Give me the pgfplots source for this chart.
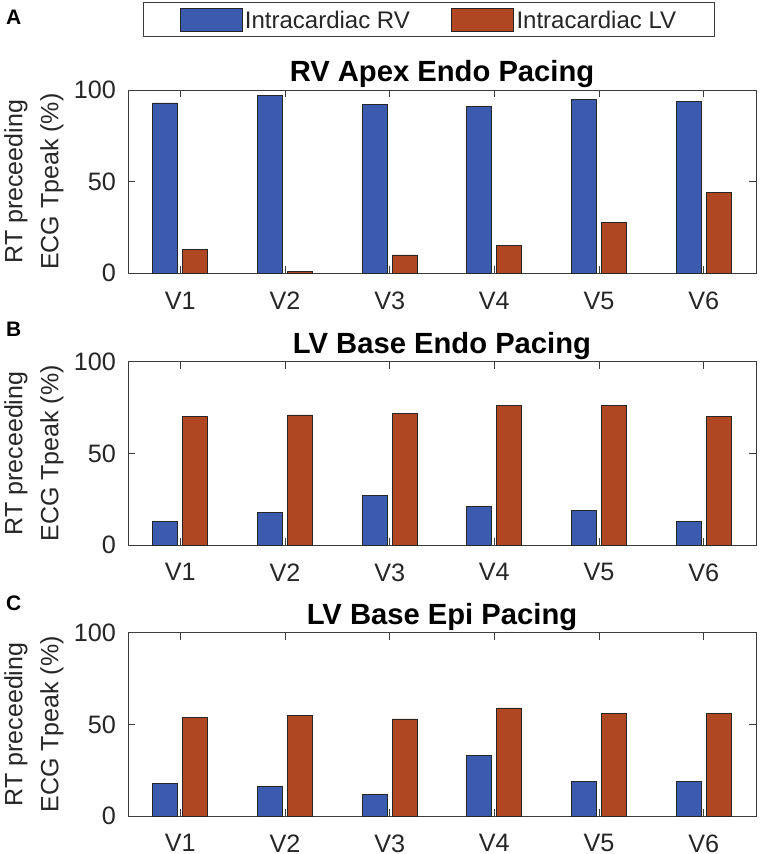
\documentclass[border=0pt]{standalone}
\usepackage{fontspec}
\setmainfont{Liberation Sans}
\usepackage{pgfplots}
\pgfplotsset{compat=1.18}
\definecolor{rvblue}{RGB}{58,91,174}
\definecolor{lvorange}{RGB}{174,71,34}
\definecolor{axgray}{RGB}{60,60,60}
\pgfplotsset{
  panel/.style={
    scale only axis, width=314pt, height=91.6pt,
    ybar,
    xmin=0.5, xmax=6.5, ymin=0, ymax=100,
    xtick={1,2,3,4,5,6}, xticklabels={V1,V2,V3,V4,V5,V6},
    ytick={0,50,100},
    axis line style={draw=axgray, line width=0.5pt},
    tick style={draw=axgray, line width=0.5pt},
    major tick length=3.5pt,
    tick align=inside,
    /pgf/number format/assume math mode=true,
    tick label style={font=\fontsize{12.6}{14}\selectfont, text=black!85},
    xticklabel style={inner sep=0pt, anchor=north, yshift=-9.1pt, text depth=0pt},
    yticklabel style={inner sep=0pt, anchor=east, xshift=-5.8pt},
    ylabel={RT preceeding\\ECG Tpeak (\%)},
    ylabel style={at={(axis description cs:-0.1497,0.5)}, anchor=center, align=center, font=\fontsize{12.5}{18}\selectfont, text=black!85},
    title style={at={(axis description cs:0.5,1)}, anchor=base, yshift=-1.7pt, inner sep=0pt, font=\bfseries\fontsize{14.6}{16}\selectfont},
    bar width=12.5pt,
  },
  rvbar/.style={fill=rvblue, draw=black!85, line width=0.4pt, bar shift=-7.5pt},
  lvbar/.style={fill=lvorange, draw=black!85, line width=0.4pt, bar shift=7.5pt},
}
\begin{document}
\begin{tikzpicture}
\useasboundingbox (0pt,0pt) rectangle (379.5pt,-427pt);
% Panel A
\begin{axis}[panel, at={(64pt,-136.65pt)}, anchor=south west,
  title={RV Apex Endo Pacing},
  legend columns=2,
  legend image code/.code={\draw[#1, line width=0.4pt] (0pt,-5.75pt) rectangle (31pt,5.75pt);},
  legend style={at={(axis description cs:0.4795,1.384)}, anchor=center,
    draw=axgray, line width=0.5pt, inner xsep=18.2pt, inner ysep=2.5pt,
    nodes={inner sep=1.2pt, text depth=0pt},
    font=\fontsize{12}{14}\selectfont, text=black!85,
    /tikz/every even column/.append style={column sep=19.5pt}},
  legend cell align=left,
]
\addplot[rvbar] coordinates {(1,93) (2,97) (3,92) (4,91) (5,95) (6,94)};
\addplot[lvbar] coordinates {(1,13) (2,1) (3,10) (4,15) (5,28) (6,44)};
\legend{Intracardiac RV, Intracardiac LV}
\end{axis}
% Panel B
\begin{axis}[panel, at={(64pt,-272.5pt)}, anchor=south west,
  title={LV Base Endo Pacing}]
\addplot[rvbar] coordinates {(1,13) (2,18) (3,27) (4,21) (5,19) (6,13)};
\addplot[lvbar] coordinates {(1,70) (2,71) (3,72) (4,76) (5,76) (6,70)};
\end{axis}
% Panel C
\begin{axis}[panel, at={(64pt,-408pt)}, anchor=south west,
  title={LV Base Epi Pacing}]
\addplot[rvbar] coordinates {(1,18) (2,16) (3,12) (4,33) (5,19) (6,19)};
\addplot[lvbar] coordinates {(1,54) (2,55) (3,53) (4,59) (5,56) (6,56)};
\end{axis}
\node[anchor=base west, inner sep=0pt, font=\bfseries\fontsize{10.5}{11}\selectfont] at (2.8pt,-12.5pt) {A};
\node[anchor=base west, inner sep=0pt, font=\bfseries\fontsize{10.5}{11}\selectfont] at (2.8pt,-168.2pt) {B};
\node[anchor=base west, inner sep=0pt, font=\bfseries\fontsize{10.5}{11}\selectfont] at (2.8pt,-305pt) {C};
\end{tikzpicture}
\end{document}
